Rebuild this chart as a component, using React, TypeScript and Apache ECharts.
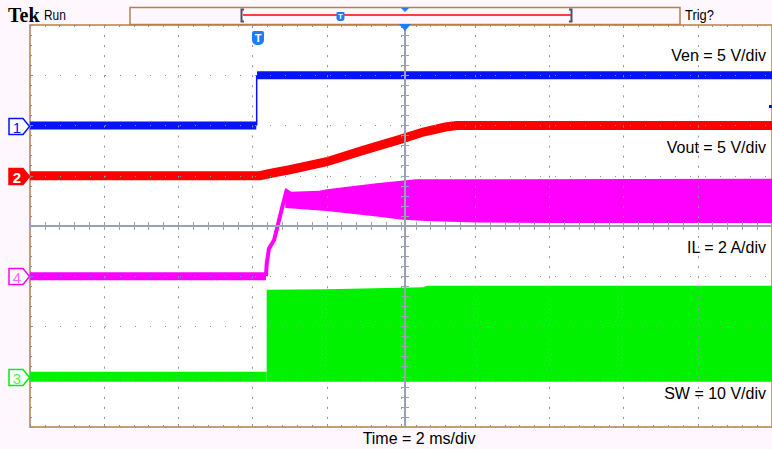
import React, { useEffect, useRef } from "react";
import * as echarts from "echarts";

// time axis: 10 divisions, amplitude axis: 8 divisions (values in divisions)
const timeRange = [0, 10];
const levelRange = [-4, 4];

// Ch1 Ven (blue)
const venLow = [[0, 2.0], [3.05, 2.0]];
const venHigh = [[3.06, 3.0], [10, 3.0]];
const venEdge = [[3.055, 2.0], [3.055, 3.0]];
// Ch2 Vout (red)
const vout = [[0, 1.0], [3.1, 1.0], [3.25, 1.05], [3.5, 1.12], [4.0, 1.28], [4.5, 1.51], [5.0, 1.73], [5.3, 1.87], [5.6, 1.97], [5.75, 2.0], [10, 2.0]];
// Ch4 IL (magenta)
const ilLow = [[0, -1.0], [3.18, -1.0]];
const ilRamp = [[3.18, -1.0], [3.19, -0.75], [3.22, -0.45], [3.29, -0.28], [3.38, 0.26], [3.46, 0.72]];
const ilUpper = [[3.44, 0.76], [3.52, 0.68], [3.9, 0.7], [4.0, 0.73], [4.67, 0.85], [5.0, 0.9], [5.2, 0.93], [10, 0.94]];
const ilLower = [[3.44, 0.36], [4.0, 0.3], [4.67, 0.19], [5.0, 0.13], [5.33, 0.1], [6.0, 0.07], [7.0, 0.06], [10, 0.06]];
// Ch3 SW (green)
const swLow = [[0, -3.0], [3.19, -3.0]];
const swUpper = [[3.19, -1.27], [4.0, -1.26], [5.3, -1.22], [5.35, -1.19], [10, -1.19]];
const swLower = [[3.19, -3.1], [10, -3.1]];

// channel tags
const tagLabels = ["1", "2", "4", "3"];
const tagLevels = [2, 1, -1, -3];
const scaleLabels = ["Ven = 5 V/div", "Vout = 5 V/div", "IL = 2 A/div", "SW = 10 V/div"];
const timeLabel = "Time = 2 ms/div";

const BLUE = "#0414F6";
const RED = "#FF0000";
const MAGENTA = "#FF00FF";
const GREEN = "#00F200";
const BROWN = "#B5804A";
const GRAY = "#8A92A2";
const CROSS = "#9AA1B0";
const BG = "#FEF8FE";
const SANS = '"Liberation Sans", Arial, sans-serif';

const GL = 30, GT = 25, GW = 750, GH = 402;
const yPix = (v: number) => GT + GH / 2 - (v * GH) / 8;

function lineSeries(data: number[][], color: string, width: number) {
  return {
    type: "line",
    data,
    xAxisIndex: 0,
    yAxisIndex: 0,
    showSymbol: false,
    symbol: "none",
    silent: true,
    lineStyle: { color, width, cap: "butt", join: "miter" },
  };
}

function bandSeries(upper: number[][], lower: number[][], color: string) {
  return {
    type: "custom",
    xAxisIndex: 0,
    yAxisIndex: 0,
    clip: true,
    silent: true,
    data: [[0, 0]],
    renderItem: (_p: any, api: any) => ({
      type: "polygon",
      shape: {
        points: [
          ...upper.map((p) => api.coord(p)),
          ...lower.slice().reverse().map((p) => api.coord(p)),
        ],
      },
      style: { fill: color },
    }),
  };
}

function xAx(extra: any) {
  return {
    type: "value",
    min: timeRange[0],
    max: timeRange[1],
    interval: 1,
    z: 10,
    axisLabel: { show: false },
    splitLine: { show: false },
    ...extra,
  };
}
function yAx(extra: any) {
  return {
    type: "value",
    min: levelRange[0],
    max: levelRange[1],
    interval: 1,
    z: 10,
    axisLabel: { show: false },
    splitLine: { show: false },
    ...extra,
  };
}

const edgeTick = { show: true, inside: true, length: 3, lineStyle: { color: GRAY } };
const edgeMinor = { show: true, splitNumber: 5, length: 2, lineStyle: { color: GRAY } };
const crossLine = { show: true, onZero: false, lineStyle: { color: CROSS, width: 2 } };
const crossTickIn = { show: true, inside: true, length: 4, lineStyle: { color: CROSS } };
const crossTickOut = { show: true, inside: false, length: 4, lineStyle: { color: CROSS } };
const crossMinor = { show: true, splitNumber: 5, length: 4, lineStyle: { color: CROSS } };

export default function App() {
  const ref = useRef<HTMLDivElement>(null);
  useEffect(() => {
    const chart = echarts.init(ref.current!, null, { renderer: "svg" });
    const tagColors = [
      { stroke: BLUE, fill: "#ffffff", text: BLUE },
      { stroke: RED, fill: RED, text: "#ffffff" },
      { stroke: MAGENTA, fill: "#ffffff", text: "#FF66FF" },
      { stroke: GREEN, fill: "#ffffff", text: "#55EE55" },
    ];
    const graphics: any[] = [];
    // header
    graphics.push({ type: "text", x: 8, y: 15, z: 100, style: { text: "Tek", font: 'bold 20px "Liberation Serif", serif', fill: "#000", verticalAlign: "middle" } });
    graphics.push({ type: "text", x: 44, y: 15, scaleX: 0.85, z: 100, style: { text: "Run", font: `14px ${SANS}`, fill: "#000", verticalAlign: "middle" } });
    graphics.push({ type: "rect", z: 100, shape: { x: 130, y: 7.5, width: 550, height: 17 }, style: { fill: BG, stroke: BROWN, lineWidth: 1.5 } });
    graphics.push({ type: "line", z: 101, shape: { x1: 243, y1: 15, x2: 571, y2: 15 }, style: { stroke: RED, lineWidth: 1.5 } });
    graphics.push({ type: "polyline", z: 101, shape: { points: [[244, 9.5], [241.5, 9.5], [241.5, 21.5], [244, 21.5]] }, style: { stroke: "#4B5363", lineWidth: 2, fill: null } });
    graphics.push({ type: "polyline", z: 101, shape: { points: [[569, 9.5], [571.5, 9.5], [571.5, 21.5], [569, 21.5]] }, style: { stroke: "#4B5363", lineWidth: 2, fill: null } });
    graphics.push({ type: "polygon", z: 102, shape: { points: [[401, 8], [409, 8], [405, 12]] }, style: { fill: "#1E7BFF" } });
    graphics.push({ type: "rect", z: 102, shape: { x: 336.5, y: 12, width: 8, height: 9, r: [1, 1, 3, 3] }, style: { fill: "#1E7BFF" } });
    graphics.push({ type: "text", x: 340.5, y: 16.5, z: 103, style: { text: "T", font: `bold 8px ${SANS}`, fill: "#fff", align: "center", verticalAlign: "middle" } });
    graphics.push({ type: "text", x: 685, y: 15, z: 100, scaleX: 0.92, style: { text: "Trig?", font: `14px ${SANS}`, fill: "#000", verticalAlign: "middle" } });
    // trigger markers
    graphics.push({ type: "polygon", z: 102, shape: { points: [[399, 24], [411, 24], [405, 31]] }, style: { fill: "#1E7BFF" } });
    graphics.push({ type: "rect", z: 102, shape: { x: 252, y: 31, width: 12, height: 14, r: [2, 2, 5, 5] }, style: { fill: "#1E7BFF" } });
    graphics.push({ type: "text", x: 258, y: 38, z: 103, style: { text: "T", font: `bold 11px ${SANS}`, fill: "#fff", align: "center", verticalAlign: "middle" } });
    graphics.push({ type: "rect", z: 102, shape: { x: 769, y: 105, width: 3, height: 3 }, style: { fill: BLUE } });
    // channel tags
    tagLabels.forEach((lab, i) => {
      const y = Math.round(yPix(tagLevels[i])) + 0.5;
      const c = tagColors[i];
      graphics.push({ type: "polygon", z: 100, shape: { points: [[9, y - 8], [23, y - 8], [29.5, y], [23, y + 8], [9, y + 8]] }, style: { fill: c.fill, stroke: c.stroke, lineWidth: 1.5 } });
      graphics.push({ type: "text", x: 17, y: y + 0.5, z: 101, style: { text: lab, font: `${i === 1 ? "bold " : ""}15px ${SANS}`, fill: c.text, align: "center", verticalAlign: "middle" } });
    });
    // scale labels
    const labelY = [55, 147, 247, 393];
    scaleLabels.forEach((t, i) => {
      graphics.push({ type: "text", x: 766, y: labelY[i], z: 100, style: { text: t, font: `16px ${SANS}`, fill: "#000", align: "right", verticalAlign: "middle" } });
    });
    graphics.push({ type: "text", x: 419, y: 438, z: 100, style: { text: timeLabel, font: `16px ${SANS}`, fill: "#000", align: "center", verticalAlign: "middle" } });

    chart.setOption({
      animation: false,
      backgroundColor: BG,
      grid: { left: GL, top: GT, width: GW, height: GH, show: true, backgroundColor: "#ffffff", borderColor: BROWN, borderWidth: 1.5 },
      xAxis: [
        xAx({ position: "bottom", axisLine: { show: false, onZero: false }, axisTick: edgeTick, minorTick: edgeMinor, splitLine: { show: true, lineStyle: { color: GRAY, width: 1, type: [2, 8.05] } } }),
        xAx({ position: "top", axisLine: { show: false, onZero: false }, axisTick: edgeTick, minorTick: edgeMinor }),
        xAx({ position: "bottom", offset: -GH / 2, axisLine: crossLine, axisTick: crossTickIn, minorTick: crossMinor }),
        xAx({ position: "bottom", offset: -GH / 2, axisLine: { show: false, onZero: false }, axisTick: crossTickOut, minorTick: crossMinor }),
      ],
      yAxis: [
        yAx({ position: "left", axisLine: { show: false, onZero: false }, axisTick: edgeTick, minorTick: edgeMinor, splitLine: { show: true, lineStyle: { color: GRAY, width: 1, type: [1, 14] } } }),
        yAx({ position: "left", offset: -GW / 2, axisLine: crossLine, axisTick: crossTickIn, minorTick: crossMinor }),
        yAx({ position: "left", offset: -GW / 2, axisLine: { show: false, onZero: false }, axisTick: crossTickOut, minorTick: crossMinor }),
      ],
      series: [
        bandSeries(swUpper, swLower, GREEN),
        lineSeries(swLow, GREEN, 10),
        bandSeries(ilUpper, ilLower, MAGENTA),
        lineSeries(ilLow, MAGENTA, 8),
        lineSeries(ilRamp, MAGENTA, 4),
        lineSeries(vout, RED, 9),
        lineSeries(venLow, BLUE, 8),
        lineSeries(venHigh, BLUE, 8),
        lineSeries(venEdge, BLUE, 1.5),
      ],
      graphic: { elements: graphics },
    });
    return () => chart.dispose();
  }, []);
  return <div ref={ref} style={{ position: "fixed", left: 0, top: 0, width: 772, height: 449 }} />;
}
